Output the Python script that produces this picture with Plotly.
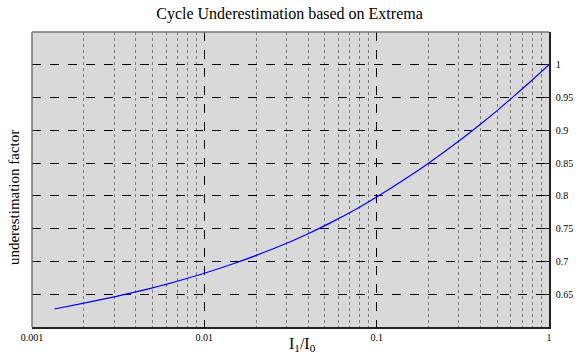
import plotly.graph_objects as go

# intensity ratio I1/I0 and the matching underestimation factor
ratio = [0.00135, 0.002, 0.003, 0.004, 0.005, 0.006, 0.008, 0.01, 0.015, 0.02,
         0.03, 0.04, 0.05, 0.06, 0.07, 0.08, 0.1, 0.15, 0.2, 0.3,
         0.4, 0.5, 0.6, 0.8, 1.0]
factor = [0.6275, 0.6365, 0.6460, 0.6535, 0.6597, 0.6651, 0.6743, 0.6820, 0.6973, 0.7092,
          0.7277, 0.7423, 0.7546, 0.7653, 0.7747, 0.7832, 0.7982, 0.8276, 0.8499, 0.8837,
          0.9093, 0.9301, 0.9480, 0.9768, 1.0]

x_tickvals = [0.001, 0.01, 0.1, 1]
x_ticktext = ["0.001", "0.01", "0.1", "1"]
x_minor = [m * 10.0 ** e for e in (-3, -2, -1) for m in range(2, 10)]
y_tickvals = [0.65, 0.7, 0.75, 0.8, 0.85, 0.9, 0.95, 1.0]
y_ticktext = ["0.65", "0.7", "0.75", "0.8", "0.85", "0.9", "0.95", "1"]

FONT = "Liberation Serif"

fig = go.Figure()
fig.add_trace(go.Scatter(
    x=ratio, y=factor, mode="lines",
    line=dict(color="#0000ff", width=1.2, shape="spline", smoothing=0.8),
    showlegend=False, hoverinfo="skip",
))

fig.update_layout(
    width=579, height=358,
    margin=dict(l=32, r=30, t=32, b=31),
    paper_bgcolor="white",
    plot_bgcolor="#d9d9d9",
    font=dict(family=FONT, color="black", size=10),
    title=dict(text="Cycle Underestimation based on Extrema",
               x=0.5, xanchor="center", y=0.962, yanchor="middle",
               font=dict(family=FONT, size=16, color="black")),
    xaxis=dict(
        type="log", range=[-3, 0], automargin=False,
        tickvals=x_tickvals, ticktext=x_ticktext,
        showgrid=True, gridcolor="black", griddash="dash", gridwidth=1,
        minor=dict(tickvals=x_minor, showgrid=True, gridcolor="#7a7a7a",
                   griddash="dot", gridwidth=1, ticks=""),
        showline=True, linecolor="#222", linewidth=1.5,
        ticks="", zeroline=False, ticklabelstandoff=0,
        tickfont=dict(family=FONT, size=10),
    ),
    yaxis=dict(
        range=[0.6, 1.05], side="right", automargin=False,
        tickvals=y_tickvals, ticktext=y_ticktext,
        showgrid=True, gridcolor="black", griddash="dash", gridwidth=1,
        showline=True, linecolor="#222", linewidth=1.5,
        ticks="inside", ticklen=4, tickcolor="#222",
        zeroline=False, ticklabelstandoff=3,
        tickfont=dict(family=FONT, size=10),
    ),
)

# grey frame on the top and left edges of the plotting area
fig.add_shape(type="line", xref="x domain", yref="y domain",
              x0=0, x1=1, y0=1, y1=1, line=dict(color="#777", width=1.5))
fig.add_shape(type="line", xref="x domain", yref="y domain",
              x0=0, x1=0, y0=0, y1=1, line=dict(color="#777", width=1.5))

# axis titles
fig.add_annotation(text="I<sub>1</sub>/I<sub>0</sub>", xref="paper", yref="paper",
                   x=0.523, y=-0.022, showarrow=False,
                   xanchor="center", yanchor="top",
                   font=dict(family=FONT, size=16, color="black"))
fig.add_annotation(text="underestimation factor", xref="paper", yref="paper",
                   x=-0.035, y=0.44, textangle=-90, showarrow=False,
                   xanchor="center", yanchor="middle",
                   font=dict(family=FONT, size=15, color="black"))

fig.write_html("out.html")
